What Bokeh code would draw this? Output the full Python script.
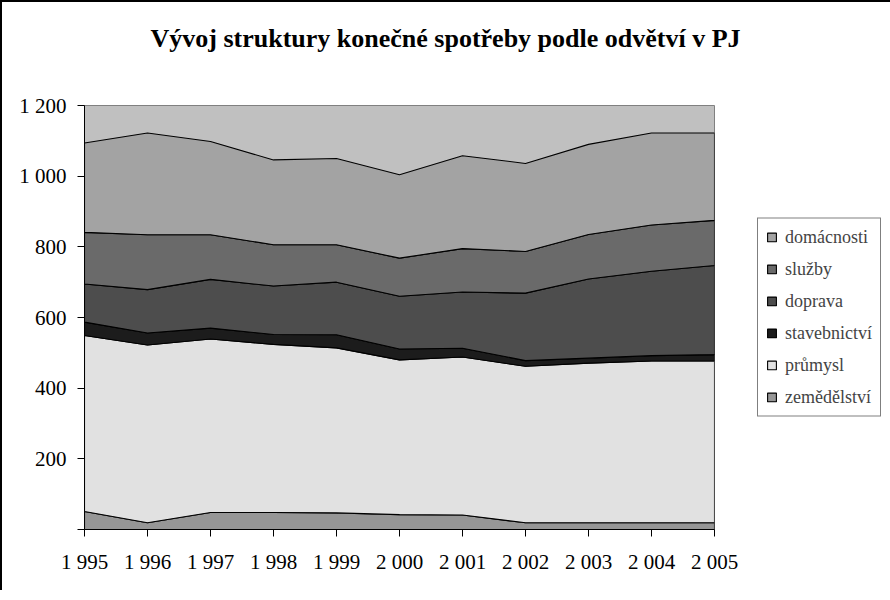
import numpy as np
from bokeh.plotting import figure
from bokeh.models import FixedTicker, Legend, LegendItem, Range1d, Title
from bokeh.embed import file_html
from bokeh.resources import INLINE

# ---- data (PJ) ----
years = [1995, 1996, 1997, 1998, 1999, 2000, 2001, 2002, 2003, 2004, 2005]
zemedelstvi = [51, 19, 48, 48, 47, 42, 41, 19, 19, 19, 19]
prumysl = [498, 503, 491, 476, 467, 438, 447, 443, 452, 458, 458]
stavebnictvi = [38, 34, 31, 28, 37, 31, 25, 16, 14, 15, 18]
doprava = [108, 123, 138, 137, 149, 149, 159, 191, 224, 239, 252]
sluzby = [146, 155, 126, 117, 106, 108, 123, 118, 126, 131, 128]
domacnosti = [253, 288, 264, 240, 244, 236, 263, 249, 255, 260, 247]

series_names = ["zemědělství", "průmysl", "stavebnictví", "doprava", "služby", "domácnosti"]
series_values = [zemedelstvi, prumysl, stavebnictvi, doprava, sluzby, domacnosti]
series_colors = ["#969696", "#e1e1e1", "#1c1c1c", "#4d4d4d", "#6a6a6a", "#a3a3a3"]

y_ticks = [0, 200, 400, 600, 800, 1000, 1200]
y_tick_labels = ["", "200", "400", "600", "800", "1 000", "1 200"]
x_tick_labels = ["1 995", "1 996", "1 997", "1 998", "1 999", "2 000",
                 "2 001", "2 002", "2 003", "2 004", "2 005"]

title_text = "Vývoj struktury konečné spotřeby podle odvětví v PJ"
FONT = "Liberation Serif"

p = figure(frame_width=630, frame_height=424, output_backend="svg", toolbar_location=None,
           x_range=Range1d(years[0], years[-1]), y_range=Range1d(0, 1200),
           min_border_left=82, min_border_right=165, min_border_top=103,
           min_border_bottom=61)
p.styles = {"border-left": "2px solid black", "border-top": "2px solid black"}
p.title = None

p.background_fill_color = "#c0c0c0"
p.border_fill_color = "white"
p.outline_line_color = "#808080"
p.outline_line_width = 1
p.xgrid.visible = False
p.ygrid.visible = False

# stacked areas
xs = np.array(years, dtype=float)
bottom = np.zeros(len(years))
renderers = []
for name, vals, col in zip(series_names, series_values, series_colors):
    top = bottom + np.array(vals, dtype=float)
    px = np.concatenate([xs, xs[::-1]])
    py = np.concatenate([top, bottom[::-1]])
    r = p.patch(px, py, fill_color=col, line_color="black", line_width=1.1)
    renderers.append((name, r))
    bottom = top

# axes
p.xaxis.ticker = FixedTicker(ticks=years)
p.xaxis.major_label_overrides = {y: l for y, l in zip(years, x_tick_labels)}
p.yaxis.ticker = FixedTicker(ticks=y_ticks)
p.yaxis.major_label_overrides = {t: l for t, l in zip(y_ticks, y_tick_labels)}
for ax in (p.xaxis, p.yaxis):
    ax.axis_line_color = "black"
    ax.axis_line_width = 1
    ax.major_tick_line_color = "black"
    ax.major_tick_out = 7
    ax.major_tick_in = 0
    ax.minor_tick_line_color = None
    ax.major_label_text_font = FONT
    ax.major_label_text_font_size = "21px"
    ax.major_label_text_color = "black"
p.xaxis.major_label_standoff = 13
p.yaxis.major_label_standoff = 11

# title: a blank spacer panel next to the frame, the real title above it
spacer = Title(text=" ", text_font=FONT, text_font_size="10px", standoff=38)
p.add_layout(spacer, "above")
main_title = Title(text=title_text, text_font=FONT, text_font_size="26px",
                   text_font_style="bold", text_color="black", align="left",
                   vertical_align="top", offset=66, standoff=0)
p.add_layout(main_title, "above")

# legend
items = [LegendItem(label=n, renderers=[r]) for n, r in reversed(renderers)]
legend = Legend(items=items, location="center_left", margin=43, padding=8,
                spacing=11, glyph_width=11, glyph_height=11, label_standoff=8,
                label_text_font=FONT, label_text_font_size="18px",
                border_line_color="black", border_line_width=1,
                background_fill_color="white", background_fill_alpha=1)
p.add_layout(legend, "right")

open("out.html", "w").write(file_html(p, INLINE))
